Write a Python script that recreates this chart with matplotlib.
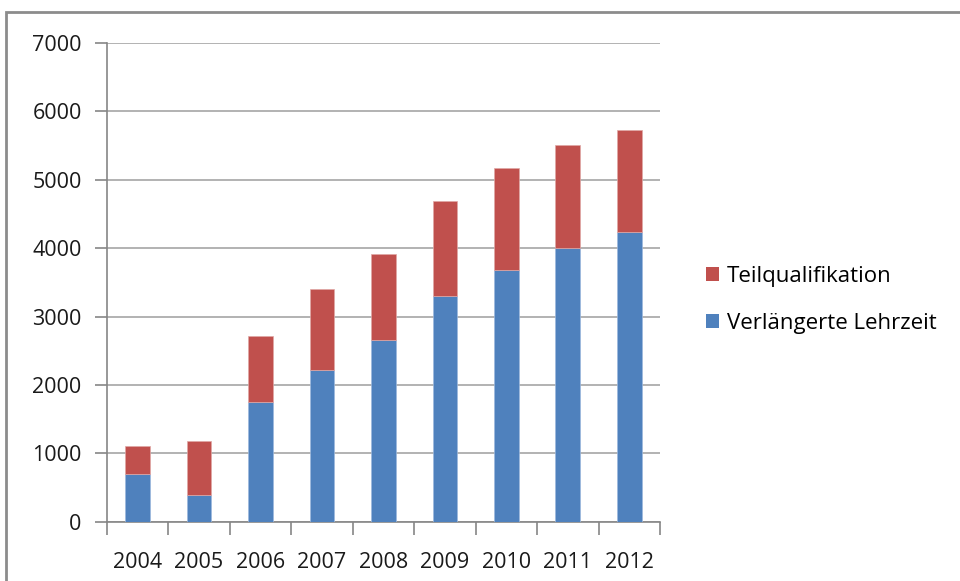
import matplotlib
matplotlib.use("Agg")
import matplotlib.pyplot as plt
from matplotlib.patches import Rectangle, Patch
import numpy as np

years = ["2004", "2005", "2006", "2007", "2008", "2009", "2010", "2011", "2012"]
verlaengerte = [700, 395, 1750, 2215, 2650, 3305, 3680, 4000, 4235]
teilqual_total = [1110, 1185, 2720, 3400, 3920, 4685, 5175, 5515, 5735]
teilqual = [t - v for t, v in zip(teilqual_total, verlaengerte)]
yticks = [0, 1000, 2000, 3000, 4000, 5000, 6000, 7000]

blue = "#4F81BD"
red = "#C0504D"
grid_c = "#A6A6A6"
axis_c = "#868686"

plt.rcParams['font.family'] = ['Open Sans', 'DejaVu Sans']

fig = plt.figure(figsize=(9.6, 5.81), dpi=100)
ax = fig.add_axes([106.7/960, 1 - 521.7/581, (660 - 106.7)/960, (521.7 - 43)/581])

x = np.arange(len(years))
ax.bar(x, verlaengerte, width=0.4, color=blue, edgecolor="#9DB9DD", linewidth=0.5, zorder=3)
ax.bar(x, teilqual, width=0.4, bottom=verlaengerte, color=red, edgecolor="#E0A8A6", linewidth=0.5, zorder=3)

ax.set_xlim(-0.5, len(years) - 0.5)
ax.set_ylim(0, 7000)
ax.set_yticks(yticks)
ax.set_yticklabels([str(v) for v in yticks], fontsize=15.5, color="#1a1a1a")
ax.yaxis.grid(True, color=grid_c, linewidth=1.2, zorder=0)
ax.tick_params(axis='y', length=9, width=1.2, color=axis_c, pad=9)

ax.set_xticks(x)
ax.set_xticklabels(years, fontsize=15.5, color="#1a1a1a")
ax.tick_params(axis='x', which='major', length=0, pad=22)
ax.set_xticks(np.arange(-0.5, len(years)), minor=True)
ax.tick_params(axis='x', which='minor', length=9, width=1.2, color=axis_c)

for s in ['top', 'right']:
    ax.spines[s].set_visible(False)
for s in ['left', 'bottom']:
    ax.spines[s].set_color(axis_c)
    ax.spines[s].set_linewidth(1.2)

handles = [Patch(facecolor=red, edgecolor='none'), Patch(facecolor=blue, edgecolor='none')]
fig.legend(handles, ["Teilqualifikation", "Verlängerte Lehrzeit"], loc='center left',
           bbox_to_anchor=(690/960, 1 - 300/581), frameon=False, fontsize=16,
           handlelength=0.6, handleheight=0.6, handletextpad=0.35, labelspacing=1.15,
           borderpad=0.2)

# outer chart border
fig.add_artist(Rectangle((6/960, -0.05), 1.0, 1 - 12/581 + 0.05, transform=fig.transFigure,
                         fill=False, edgecolor="#8C8C8C", linewidth=2))

fig.savefig("out.png", dpi=100)
